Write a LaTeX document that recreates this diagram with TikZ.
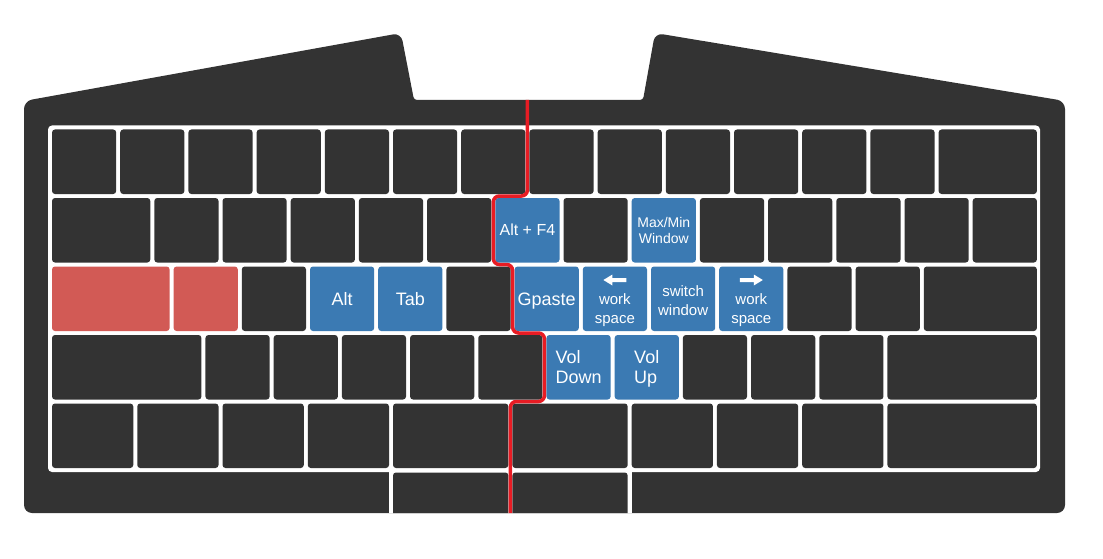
\documentclass[tikz,border=0pt]{standalone}
\usepackage{fontspec}
\setmainfont{Liberation Sans}
\usetikzlibrary{calc}
\definecolor{dk}{RGB}{51,51,51}
\definecolor{bl}{RGB}{59,122,179}
\definecolor{rk}{RGB}{210,90,85}
\definecolor{rl}{RGB}{232,28,36}
\tikzset{
  keybox/.style={rectangle, rounded corners=3pt, inner sep=0pt, minimum height=64.5pt, draw=none},
  dkkey/.style={keybox, fill=dk},
  blkey/.style={keybox, fill=bl},
  rdkey/.style={keybox, fill=rk},
  lbl/.style={text=white, inner sep=0pt, anchor=base},
  split/.style={draw=rl, line width=3.5pt, rounded corners=6pt}
}
\newcommand\kk[5]{%
  \pgfmathsetmacro\kx{50+68.2*(#2)+34.1*(#3)}%
  \pgfmathsetmacro\kw{68.2*(#3)-4}%
  \node[#5, minimum width=\kw pt] (#1) at (\kx,#4+32.25) {};%
}
\begin{document}
\begin{tikzpicture}[x=1pt,y=-1pt]
\useasboundingbox (0,0) rectangle (1103,559);
% body
\fill[dk, rounded corners=8pt] (24,300) -- (24,101) -- (401,33) [rounded corners=3pt] -- (414,100) -- (643,100) [rounded corners=8pt] -- (655,33) -- (1065,101) -- (1065,513) -- (24,513) -- cycle;
% white frame
\fill[white, rounded corners=4pt] (48,125.5) rectangle (1040,472);
\fill[white] (388.5,466) rectangle (631.5,513);
% row 1
\foreach \i in {0,...,12} {\kk{r1k\i}{\i}{1}{129.5}{dkkey}}
\kk{r1k13}{13}{1.5}{129.5}{dkkey}
% row 2
\kk{r2k0}{0}{1.5}{198}{dkkey}
\foreach \i/\s in {1/dkkey,2/dkkey,3/dkkey,4/dkkey,5/dkkey,6/blkey,7/dkkey,8/blkey,9/dkkey,10/dkkey,11/dkkey,12/dkkey,13/dkkey} {\kk{r2k\i}{\i+0.5}{1}{198}{\s}}
% row 3
\kk{r3k0}{0}{1.783}{266.5}{rdkey}
\foreach \i/\s in {1/rdkey,2/dkkey,3/blkey,4/blkey,5/dkkey,6/blkey,7/blkey,8/blkey,9/blkey,10/dkkey,11/dkkey} {\kk{r3k\i}{\i+0.783}{1}{266.5}{\s}}
\kk{r3k12}{12.783}{1.717}{266.5}{dkkey}
% row 4
\kk{r4k0}{0}{2.25}{335}{dkkey}
\foreach \i/\s in {1/dkkey,2/dkkey,3/dkkey,4/dkkey,5/dkkey,6/blkey,7/blkey,8/dkkey,9/dkkey,10/dkkey} {\kk{r4k\i}{\i+1.25}{1}{335}{\s}}
\kk{r4k11}{12.25}{2.25}{335}{dkkey}
% row 5
\foreach \i/\a/\w in {0/0/1.25,1/1.25/1.25,2/2.5/1.25,3/3.75/1.25,4/5/1.75,5/6.75/1.75,6/8.5/1.25,7/9.75/1.25,8/11/1.25,9/12.25/2.25} {\kk{r5k\i}{\a}{\w}{403.5}{dkkey}}
% bottom partial keys
\fill[dk, rounded corners=3pt] (393,513) -- (393,472.5) -- (508.4,472.5) -- (508.4,513);
\fill[dk, rounded corners=3pt] (512.4,513) -- (512.4,472.5) -- (627.7,472.5) -- (627.7,513);
% labels
\node[lbl, font=\fontsize{16}{19}\selectfont] (tA) at ($(r2k6.center)+(0,5.7)$) {Alt + F4};
\node[lbl, font=\fontsize{14}{16}\selectfont] (tB) at ($(r2k8.center)+(0,-3)$) {\begin{tabular}[t]{@{}c@{}}Max/Min\\Window\end{tabular}};
\node[lbl, font=\fontsize{18}{21}\selectfont] (tC) at ($(r3k3.center)+(0,6.3)$) {Alt};
\node[lbl, font=\fontsize{18}{21}\selectfont] (tD) at ($(r3k4.center)+(0,6.3)$) {Tab};
\node[lbl, font=\fontsize{18}{21}\selectfont] (tE) at ($(r3k6.center)+(0,6.3)$) {Gpaste};
\node[lbl, font=\fontsize{15}{19}\selectfont] (tF) at ($(r3k7.center)+(0,5.25)$) {\begin{tabular}[t]{@{}c@{}}work\\space\end{tabular}};
\node[lbl, font=\fontsize{15}{19}\selectfont] (tG) at ($(r3k8.center)+(0,-2.45)$) {\begin{tabular}[t]{@{}c@{}}switch\\window\end{tabular}};
\node[lbl, font=\fontsize{15}{19}\selectfont] (tH) at ($(r3k9.center)+(0,5.25)$) {\begin{tabular}[t]{@{}c@{}}work\\space\end{tabular}};
\node[lbl, font=\fontsize{18}{20.7}\selectfont] (tI) at ($(r4k6.center)+(0,-4.25)$) {\begin{tabular}[t]{@{}l@{}}Vol\\Down\end{tabular}};
\node[lbl, font=\fontsize{18}{20.7}\selectfont] (tJ) at ($(r4k7.center)+(0,-4.25)$) {\begin{tabular}[t]{@{}l@{}}Vol\\Up\end{tabular}};
% arrows
\fill[white, shift={(r3k7.center)}] (-11.5,-18.75) -- (-2.5,-24.25) -- (-2.5,-20.75) -- (11.5,-20.75) -- (11.5,-16.75) -- (-2.5,-16.75) -- (-2.5,-13.25) -- cycle;
\fill[white, shift={(r3k9.center)}] (11.5,-18.75) -- (2.5,-24.25) -- (2.5,-20.75) -- (-11.5,-20.75) -- (-11.5,-16.75) -- (2.5,-16.75) -- (2.5,-13.25) -- cycle;
% split line
\coordinate (s0) at (527.4,100);
\coordinate (s1) at (510.35,513);
\draw[split] (s0) -- (527.4,196) -- (493.3,196) -- (493.3,264.5) -- (512.6,264.5) -- (512.6,333) -- (544.45,333) -- (544.45,401.5) -- (510.35,401.5) -- (s1);
\end{tikzpicture}
\end{document}
